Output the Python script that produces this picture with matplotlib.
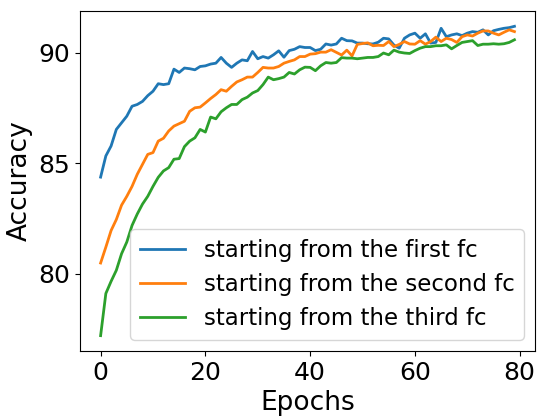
import numpy as np
import matplotlib
matplotlib.use('Agg')
import matplotlib.pyplot as plt

# ---------------------------------------------------------------------------
# Accuracy per epoch
# ---------------------------------------------------------------------------
first_fc = [
    84.37, 85.33, 85.78, 86.53, 86.83, 87.13, 87.58, 87.66, 87.80, 88.06,
    88.26, 88.60, 88.56, 88.60, 89.26, 89.11, 89.31, 89.28, 89.23, 89.38,
    89.41, 89.49, 89.53, 89.79, 89.53, 89.34, 89.53, 89.68, 89.64, 90.06,
    89.73, 89.83, 89.76, 89.91, 90.09, 89.80, 90.10, 90.16, 90.28, 90.24,
    90.24, 90.10, 90.16, 90.40, 90.35, 90.40, 90.66, 90.55, 90.54, 90.44,
    90.44, 90.41, 90.40, 90.48, 90.66, 90.63, 90.35, 90.21, 90.66, 90.81,
    90.89, 90.66, 90.86, 90.44, 90.47, 91.11, 90.73, 90.81, 90.86, 90.78,
    90.89, 90.96, 90.93, 91.04, 90.81, 91.00, 91.06, 91.11, 91.14, 91.20,
]
second_fc = [
    80.48, 81.20, 81.95, 82.45, 83.10, 83.50, 83.95, 84.50, 84.95, 85.40,
    85.48, 86.00, 86.13, 86.46, 86.68, 86.79, 86.90, 87.35, 87.51, 87.54,
    87.73, 87.93, 88.11, 88.33, 88.26, 88.48, 88.68, 88.78, 88.90, 88.90,
    89.11, 89.34, 89.31, 89.31, 89.38, 89.53, 89.61, 89.68, 89.83, 89.83,
    89.94, 89.96, 90.03, 90.03, 90.14, 90.02, 89.90, 90.12, 89.86, 90.38,
    90.42, 90.45, 90.32, 90.34, 90.33, 90.51, 90.28, 90.38, 90.51, 90.40,
    90.39, 90.55, 90.39, 90.51, 90.71, 90.51, 90.66, 90.60, 90.47, 90.73,
    90.81, 90.76, 90.89, 90.99, 90.99, 90.89, 90.81, 90.93, 91.04, 90.96,
]
third_fc = [
    77.19, 79.10, 79.65, 80.15, 80.90, 81.43, 82.18, 82.70, 83.15, 83.50,
    83.95, 84.36, 84.65, 84.80, 85.18, 85.21, 85.75, 86.00, 86.15, 86.53,
    86.41, 87.09, 87.01, 87.33, 87.51, 87.66, 87.66, 87.88, 87.99, 88.18,
    88.29, 88.56, 88.90, 88.78, 88.83, 88.90, 89.11, 89.04, 89.23, 89.35,
    89.34, 89.19, 89.41, 89.56, 89.53, 89.56, 89.78, 89.76, 89.76, 89.73,
    89.76, 89.79, 89.79, 89.83, 89.99, 89.91, 90.12, 90.03, 89.99, 89.97,
    90.10, 90.21, 90.28, 90.28, 90.32, 90.32, 90.36, 90.18, 90.33, 90.47,
    90.51, 90.55, 90.33, 90.39, 90.39, 90.41, 90.39, 90.41, 90.47, 90.59,
]
labels = [
    'starting from the first fc',
    'starting from the second fc',
    'starting from the third fc',
]

epochs = np.arange(len(first_fc))

fig, ax = plt.subplots(figsize=(5.4, 4.17), dpi=100)
fig.subplots_adjust(left=0.148, right=0.991, bottom=0.158, top=0.974)

for series, label in zip([first_fc, second_fc, third_fc], labels):
    ax.plot(epochs, series, label=label, linewidth=2)

ax.set_xlabel('Epochs', fontsize=19)
ax.set_ylabel('Accuracy', fontsize=19)
ax.tick_params(labelsize=18)
ax.legend(loc='lower right', fontsize=16.5)

fig.savefig('out.png')
